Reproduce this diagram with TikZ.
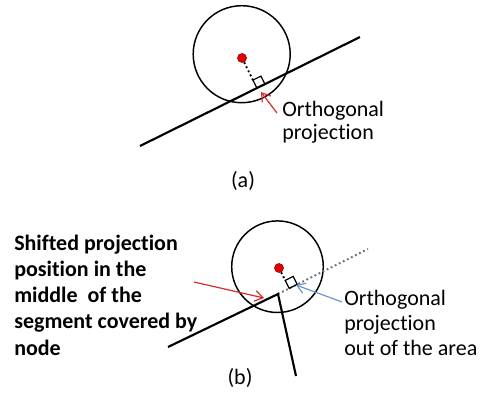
\documentclass[tikz,border=0pt]{standalone}
\usepackage{fontspec}
\setmainfont{Carlito}[Ligatures=NoCommon]
\usetikzlibrary{arrows.meta,calc}

\definecolor{projred}{RGB}{215,45,45}
\definecolor{projblue}{RGB}{110,150,205}
\definecolor{dotgray}{RGB}{105,112,128}

\tikzset{
  road/.style={line width=1.6pt},
  area/.style={line width=1.1pt},
  centre/.style={circle,fill=red!90!black,draw=red!55!black,inner sep=0pt,minimum size=6.8pt},
  pointer/.style={line width=0.9pt,-{Straight Barb[length=6pt,width=8pt]}},
  perp/.style={line width=1.4pt,dotted},
  lbl/.style={font=\fontsize{16.5}{17.3}\selectfont,align=left,inner sep=0pt},
}

\begin{document}
\begin{tikzpicture}[x=0.75pt,y=-0.75pt]
  \useasboundingbox (0,0) rectangle (487,412);

  % (a) projection inside the area
  \coordinate (La1) at (140,146);
  \coordinate (La2) at (360,37);
  \draw[area] (241.7,54.2) circle[radius=48.5];
  \draw[road] (La1) -- (La2);
  \node[centre] (ca) at (242,58) {};
  \coordinate (Fa) at ($(La1)!(ca.center)!(La2)$);
  \coordinate (Sa1) at ($(Fa)!6.7pt!(La2)$);
  \coordinate (Sa2) at ($(Fa)!6.7pt!(ca.center)$);
  \draw[perp] (ca) -- (Sa2);
  \draw[line width=0.9pt] (Fa) -- (Sa1) -- ($(Sa1)+(Sa2)-(Fa)$) -- (Sa2) -- cycle;
  \node[lbl,anchor=west] (labA) at (282,122) {Orthogonal\\projection};
  \coordinate (tA) at (277,113);
  \coordinate (hA) at (261,92);
  \draw[pointer,projred] (tA) -- (hA);
  \node[lbl] (capA) at (243,181) {(a)};

  % (b) projection out of the area
  \coordinate (Lb1) at (168,347);
  \coordinate (Kb) at (278,294);
  \coordinate (Lb3) at (296,376);
  \coordinate (Gb) at (368,249);
  \draw[area] (277.5,266.7) circle[radius=45.8];
  \draw[perp,dotgray] (Kb) -- (Gb);
  \draw[road,line join=miter] (Lb1) -- (Kb) -- (Lb3);
  \node[centre] (cb) at (279,268) {};
  \coordinate (Fb) at ($(Kb)!(cb.center)!(Gb)$);
  \coordinate (Sb1) at ($(Fb)!6.7pt!(Gb)$);
  \coordinate (Sb2) at ($(Fb)!6.7pt!(cb.center)$);
  \draw[perp] (cb) -- (Sb2);
  \draw[line width=0.9pt] (Fb) -- (Sb1) -- ($(Sb1)+(Sb2)-(Fb)$) -- (Sb2) -- cycle;
  \node[lbl,font=\fontsize{16.5}{19.7}\bfseries,anchor=west] (labB) at (14,295)
    {Shifted projection\\position in the\\middle\ \ of the\\segment covered by\\node};
  \node[lbl,font=\fontsize{16.5}{18.8}\selectfont,anchor=west] (labC) at (344,323)
    {Orthogonal\\projection\\out of the area};
  \coordinate (tB) at (194,282);
  \coordinate (hB) at (264,298);
  \draw[pointer,projred] (tB) -- (hB);
  \coordinate (tC) at (342,302);
  \coordinate (hC) at (296,285);
  \draw[pointer,projblue] (tC) -- (hC);
  \node[lbl] (capB) at (240,378) {(b)};
\end{tikzpicture}
\end{document}
